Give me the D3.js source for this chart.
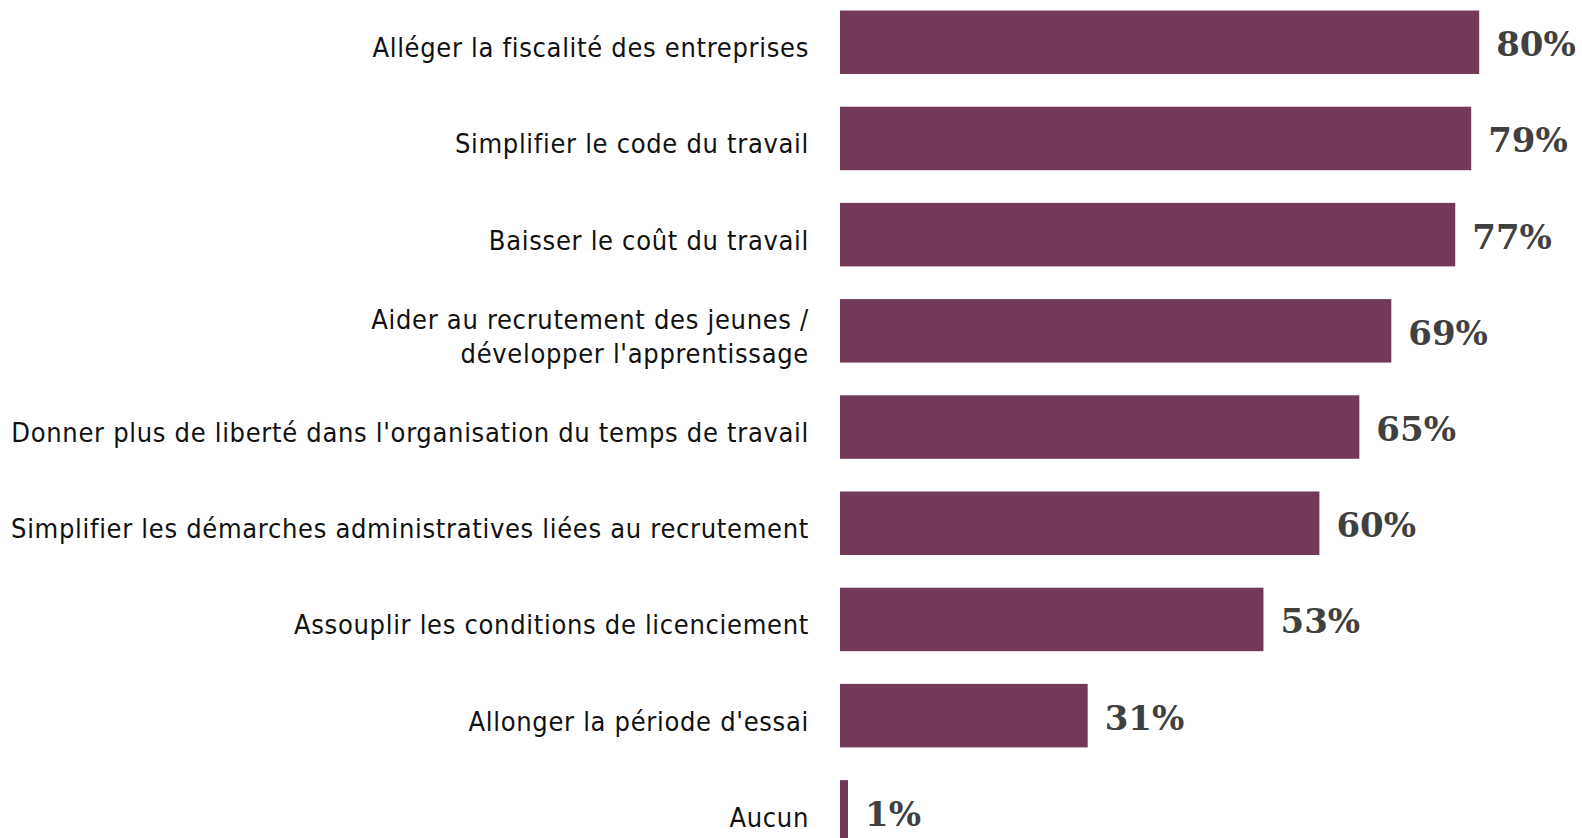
<!DOCTYPE html>
<html>
<head>
<meta charset="utf-8">
<script src="https://cdnjs.cloudflare.com/ajax/libs/d3/7.8.5/d3.min.js"></script>
<style>
  body { margin: 0; background: #fff; }
  svg { display: block; }
</style>
</head>
<body>
<svg id="chart"></svg>
<script>
// categories (line breaks with "|")
var categories = [
    "Alléger la fiscalité des entreprises",
    "Simplifier le code du travail",
    "Baisser le coût du travail",
    "Aider au recrutement des jeunes /|développer l'apprentissage",
    "Donner plus de liberté dans l'organisation du temps de travail",
    "Simplifier les démarches administratives liées au recrutement",
    "Assouplir les conditions de licenciement",
    "Allonger la période d'essai",
    "Aucun"
];
var values = [80, 79, 77, 69, 65, 60, 53, 31, 1];

var width = 1582;
var height = 838;

var svg = d3.select('#chart')
    .attr('width', width)
    .attr('height', height);

// set the ranges
var step = 96.2;
var x = d3.scaleLinear().domain([0, 100]).range([840, 1639]);
var y = d3.scaleBand()
    .domain(categories)
    .range([10.5 - step * 0.17, 10.5 - step * 0.17 + step * 9])
    .paddingInner(0.34)
    .paddingOuter(0.17);

var data = categories.map(function (c, i) { return { cat: c, value: values[i] }; });

// bars
svg.selectAll('.bar')
    .data(data)
    .enter().append('rect')
    .attr('class', 'bar')
    .attr('x', x(0))
    .attr('y', function (d) { return y(d.cat); })
    .attr('width', function (d) { return x(d.value) - x(0); })
    .attr('height', y.bandwidth())
    .attr('fill', '#723a58');

// value labels
svg.selectAll('.val')
    .data(data)
    .enter().append('text')
    .attr('class', 'val')
    .attr('x', function (d) { return x(d.value) + 17; })
    .attr('y', function (d) { return y(d.cat) + y.bandwidth() / 2 + 14; })
    .attr('font-family', 'Georgia, "DejaVu Serif", serif')
    .attr('font-weight', 'bold')
    .attr('font-size', 34)
    .attr('fill', '#404040')
    .text(function (d) { return d.value + '%'; });

// category labels
var labels = svg.selectAll('.cat')
    .data(data)
    .enter().append('text')
    .attr('class', 'cat')
    .attr('text-anchor', 'end')
    .attr('font-family', 'Tahoma, "DejaVu Sans Condensed", "DejaVu Sans", sans-serif')
    .attr('font-stretch', 'condensed')
    .attr('fill', '#111')
    .attr('font-size', 27);

labels.each(function (d) {
    var lines = d.cat.split('|');
    var cy = y(d.cat) + y.bandwidth() / 2 + 5;
    var lh = 34;
    var t = d3.select(this);
    lines.forEach(function (l, i) {
        t.append('tspan')
            .attr('x', 809)
            .attr('y', cy + (i - (lines.length - 1) / 2) * lh + 10)
            .text(l);
    });
});

// widen the letters a little so the longest label spans like the original
var maxW = 0, maxN = 1;
labels.each(function (d) {
    var w = this.getBBox().width;
    if (w > maxW) { maxW = w; maxN = d.cat.length; }
});
var ls = Math.max(0, (798 - maxW) / maxN);
labels.attr('letter-spacing', ls);
</script>
</body>
</html>
